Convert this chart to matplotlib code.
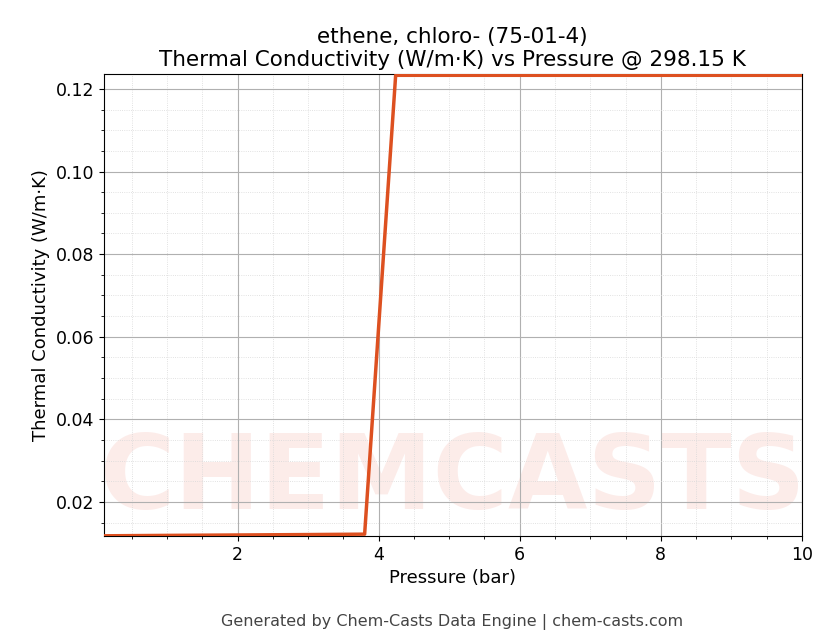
import matplotlib
matplotlib.use("Agg")
import matplotlib.pyplot as plt
from matplotlib.ticker import AutoMinorLocator

# Pressure (bar) vs thermal conductivity (W/m·K)
pressure = [0.1, 1.0, 2.0, 3.0, 3.8, 4.24, 5.0, 6.0, 7.0, 8.0, 9.0, 10.0]
conductivity = [0.0118, 0.0119, 0.0120, 0.0121, 0.0122, 0.1233, 0.1233, 0.1233, 0.1233, 0.1233, 0.1233, 0.1233]

fig = plt.figure(figsize=(8.3, 6.44), dpi=100)
ax = fig.add_axes([0.125, 0.168, 0.841, 0.717])

# faint watermark
ax.text(0.5, 0.12, "CHEMCASTS", transform=ax.transAxes, ha="center", va="center",
        fontsize=74, fontweight="bold", color="#e8472e", alpha=0.1, zorder=0,
        clip_on=True)

ax.plot(pressure, conductivity, color="#dd5020", linewidth=2.5, zorder=3)
ax.set_xlim(0.1, 10)
ax.set_ylim(0.0118, 0.1236)
ax.xaxis.set_minor_locator(AutoMinorLocator())
ax.yaxis.set_minor_locator(AutoMinorLocator())
ax.grid(which="major", color="#b0b0b0", linewidth=0.8)
ax.grid(which="minor", color="#d8d8d8", linestyle=":", linewidth=0.6)
ax.tick_params(labelsize=12.5)
ax.set_xlabel("Pressure (bar)", fontsize=13)
ax.set_ylabel("Thermal Conductivity (W/m·K)", fontsize=13)
ax.set_title("ethene, chloro- (75-01-4)\nThermal Conductivity (W/m·K) vs Pressure @ 298.15 K",
             fontsize=15.5)
fig.text(0.545, 0.028, "Generated by Chem-Casts Data Engine | chem-casts.com",
         ha="center", fontsize=11.5, color="#444444")

fig.savefig("out.png", dpi=100)
